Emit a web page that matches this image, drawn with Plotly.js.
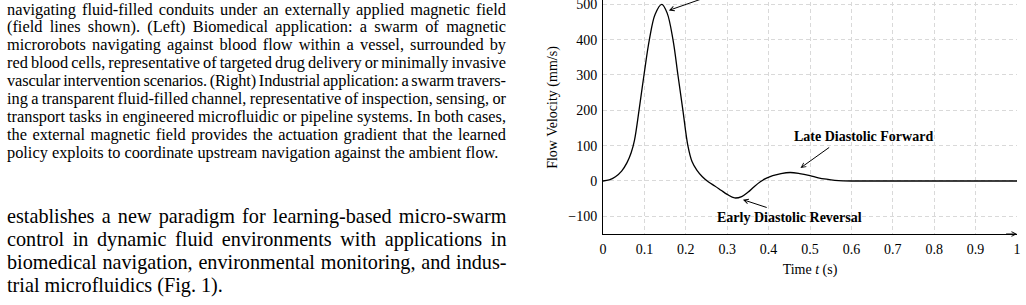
<!DOCTYPE html>
<html>
<head>
<meta charset="utf-8">
<script src="https://cdn.plot.ly/plotly-3.0.1.min.js"></script>
<style>
  html, body { margin: 0; padding: 0; width: 1026px; height: 305px; overflow: hidden; background: #fff; }
  #chart { position: absolute; left: 0; top: -19px; width: 1026px; height: 324px; }
  #prose { position: absolute; left: 0; top: 0; z-index: 5; pointer-events: none; }
  #prose text { font-family: "Liberation Serif", "Times New Roman", serif; }
</style>
</head>
<body>
<div id="chart"></div>
<svg id="prose" width="1026" height="305" xmlns="http://www.w3.org/2000/svg"></svg>
<script>
// ---- Page text (figure caption tail and body paragraph) ----
const captionLines = [
  "navigating fluid-filled conduits under an externally applied magnetic field",
  "(field lines shown). (Left) Biomedical application: a swarm of magnetic",
  "microrobots navigating against blood flow within a vessel, surrounded by",
  "red blood cells, representative of targeted drug delivery or minimally invasive",
  "vascular intervention scenarios. (Right) Industrial application: a swarm travers-",
  "ing a transparent fluid-filled channel, representative of inspection, sensing, or",
  "transport tasks in engineered microfluidic or pipeline systems. In both cases,",
  "the external magnetic field provides the actuation gradient that the learned",
  "policy exploits to coordinate upstream navigation against the ambient flow."
];
const bodyLines = [
  "establishes a new paradigm for learning-based micro-swarm",
  "control in dynamic fluid environments with applications in",
  "biomedical navigation, environmental monitoring, and indus-",
  "trial microfluidics (Fig. 1)."
];

// ---- Pulsatile flow waveform over one cardiac cycle ----
const time = [0, 0.015, 0.03, 0.045, 0.058, 0.068, 0.076, 0.087, 0.099, 0.112, 0.126, 0.142,
              0.155, 0.169, 0.181, 0.193, 0.205, 0.215, 0.227, 0.24, 0.255, 0.27, 0.285, 0.30,
              0.318, 0.335, 0.35, 0.365, 0.38, 0.395, 0.41, 0.43, 0.452, 0.475, 0.5, 0.52,
              0.54, 0.56, 0.58, 0.6, 0.7, 0.8, 0.9, 1.0];
const velocity = [0, 3, 12, 28, 52, 80, 115, 200, 300, 400, 472, 500,
                  475, 400, 300, 200, 100, 55, 30, 12, -3, -14, -26, -38,
                  -48, -44, -32, -16, -2, 8, 15, 21, 24, 21, 15, 9,
                  5, 2, 0.5, 0, 0, 0, 0, 0];

const xTickVals = [0, 0.1, 0.2, 0.3, 0.4, 0.5, 0.6, 0.7, 0.8, 0.9, 1];
const xTickText = ["0", "0.1", "0.2", "0.3", "0.4", "0.5", "0.6", "0.7", "0.8", "0.9", "1"];
const yTickVals = [-100, 0, 100, 200, 300, 400, 500];

// Callout labels
const calloutText = ["Late Diastolic Forward", "Early Diastolic Reversal"];
const calloutT = [0.630, 0.450];
const calloutV = [126, -104.5];

// Callout arrows (head points at the waveform feature, tail near its label)
const arrowHeadT = [0.159, 0.477, 0.338];
const arrowHeadV = [482.7, 36.8, -52.9];
const arrowTailT = [0.25, 0.550, 0.399];
const arrowTailV = [520, 98, -76.4];

const gridColor = "#d9d9d9";
const serif = "Liberation Serif, Times New Roman, serif";

const trace = {
  x: time, y: velocity, type: "scatter", mode: "lines",
  line: { color: "#000", width: 1.3, shape: "spline", smoothing: 1 },
  hoverinfo: "skip"
};

const annotations = [];
calloutText.forEach((txt, i) => {
  annotations.push({
    x: calloutT[i], y: calloutV[i], xref: "x", yref: "y",
    text: "<b>" + txt + "</b>", showarrow: false,
    font: { family: serif, size: 14, color: "#000" },
    xanchor: "center", yanchor: "middle"
  });
});
arrowHeadT.forEach((t, i) => {
  annotations.push({
    x: t, y: arrowHeadV[i], xref: "x", yref: "y",
    ax: arrowTailT[i], ay: arrowTailV[i], axref: "x", ayref: "y",
    text: "", showarrow: true, arrowhead: 5, arrowsize: 0.9, arrowwidth: 1, arrowcolor: "#000",
    standoff: 0, startstandoff: 0
  });
});
// arrow tip at the right end of the time axis
annotations.push({
  x: xTickVals[xTickVals.length - 1], y: -150, xref: "x", yref: "y",
  ax: 0.97, ay: -150, axref: "x", ayref: "y",
  text: "", showarrow: true, arrowhead: 5, arrowsize: 0.9, arrowwidth: 1, arrowcolor: "#000"
});

const layout = {
  width: 1026, height: 324,
  margin: { l: 603, r: 9, t: 0, b: 71, pad: 0 },
  paper_bgcolor: "rgba(0,0,0,0)", plot_bgcolor: "rgba(0,0,0,0)",
  showlegend: false,
  font: { family: serif, size: 14, color: "#000" },
  xaxis: {
    range: [0, 1], tickmode: "array", tickvals: xTickVals, ticktext: xTickText,
    showgrid: true, gridcolor: gridColor, gridwidth: 1, griddash: "4px,3px",
    zeroline: false, showline: true, linecolor: "#000", linewidth: 1,
    ticks: "", ticklabelstandoff: 2, automargin: false, fixedrange: true,
    tickfont: { family: serif, size: 14, color: "#000" },
    title: { text: "Time <i>t</i> (s)", standoff: 8, font: { family: serif, size: 14, color: "#000" } }
  },
  yaxis: {
    range: [-150, 565.9], tickmode: "array", tickvals: yTickVals,
    showgrid: true, gridcolor: gridColor, gridwidth: 1, griddash: "4px,3px",
    zeroline: false, showline: true, linecolor: "#000", linewidth: 1,
    ticks: "", ticklabelstandoff: 2, automargin: false, fixedrange: true,
    tickfont: { family: serif, size: 14, color: "#000" },
    title: { text: "Flow Velocity (mm/s)", standoff: 7, font: { family: serif, size: 14, color: "#000" } }
  },
  annotations: annotations
};

Plotly.newPlot("chart", [trace], layout, { staticPlot: true, displayModeBar: false });

// ---- Justified text block drawn into the overlay SVG ----
const NS = "http://www.w3.org/2000/svg";
const prose = document.getElementById("prose");

function measure(str, size) {
  const el = document.createElementNS(NS, "text");
  el.style.fontSize = size + "px";
  el.textContent = str;
  prose.appendChild(el);
  const w = el.getComputedTextLength();
  prose.removeChild(el);
  return w;
}

function drawParagraph(lines, left, width, firstBaseline, leading, lastLineWidth) {
  // font size chosen so the final (ragged) line has its natural printed width
  const size = 100 * lastLineWidth / measure(lines[lines.length - 1], 100);
  const minSpace = -1.2; // tightest allowed change of an inter-word gap
  lines.forEach((str, i) => {
    const el = document.createElementNS(NS, "text");
    el.setAttribute("x", left);
    el.setAttribute("y", firstBaseline + i * leading);
    el.setAttribute("fill", "#000");
    el.style.fontSize = size.toFixed(3) + "px";
    el.style.whiteSpace = "pre";
    el.textContent = str;
    prose.appendChild(el);
    if (i < lines.length - 1) {
      const natural = el.getComputedTextLength();
      const gaps = (str.match(/ /g) || []).length;
      let ws = (width - natural) / gaps;
      if (ws < minSpace) {
        // too long for the measure: shrink letter spacing for the rest
        const rest = width - natural - minSpace * gaps;
        el.style.letterSpacing = (rest / (str.length - 1)).toFixed(3) + "px";
        ws = minSpace;
      }
      el.style.wordSpacing = ws.toFixed(3) + "px";
    }
  });
}

drawParagraph(captionLines, 7, 499, 14.5, 17.9, 492);
drawParagraph(bodyLines, 7, 499.5, 223.3, 22.8, 216);
</script>
</body>
</html>
